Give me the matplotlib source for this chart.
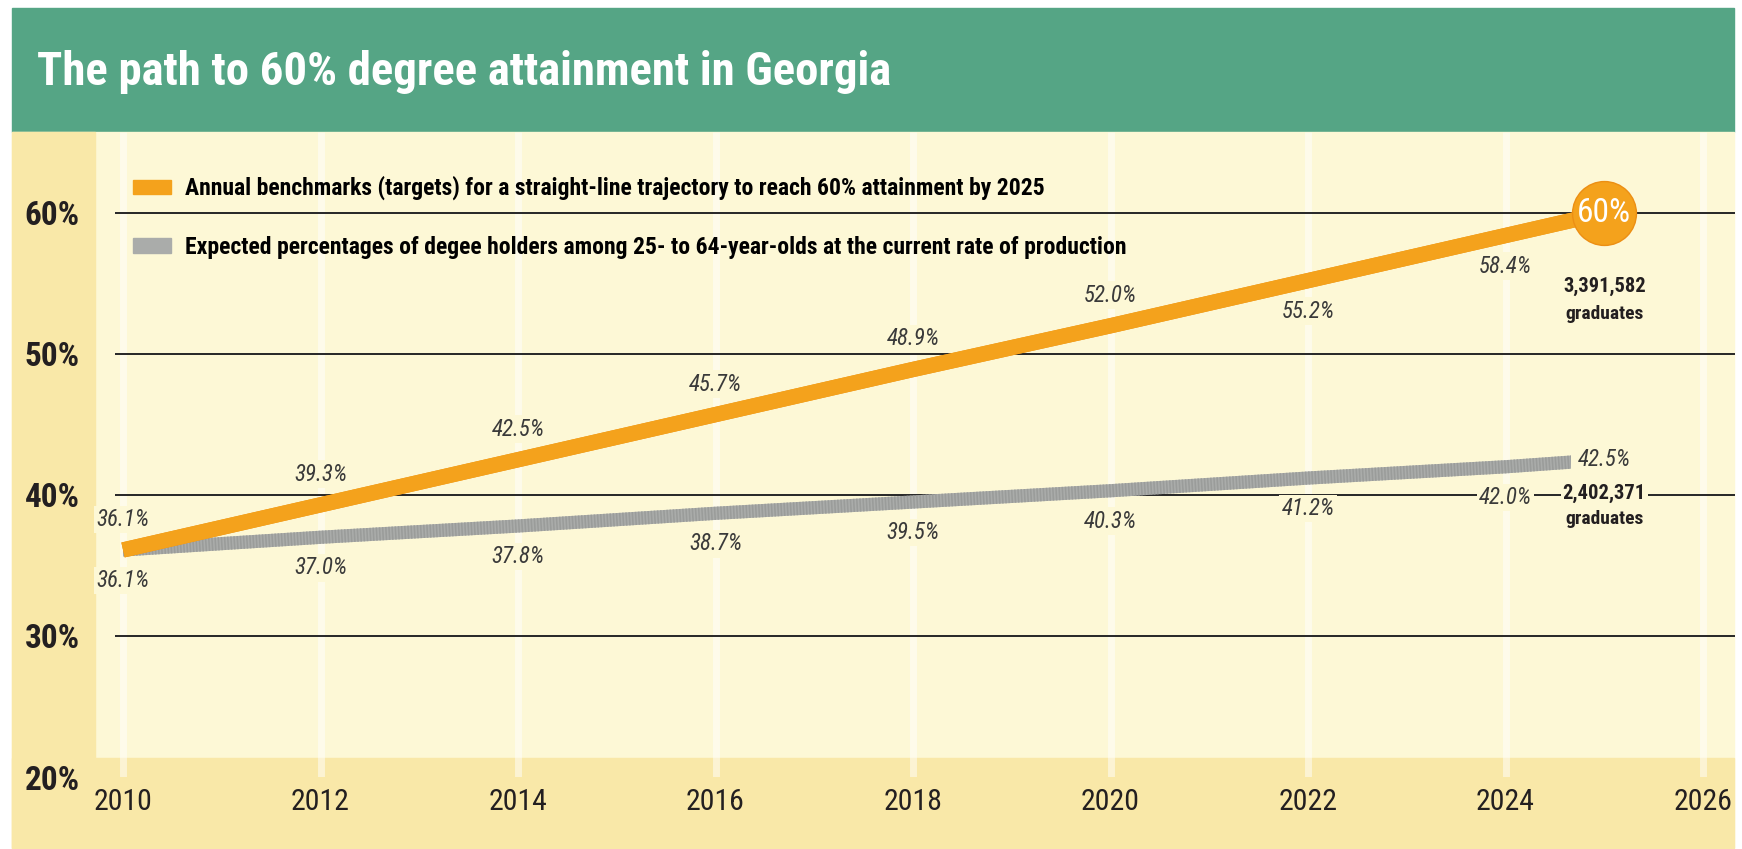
import matplotlib
matplotlib.use('Agg')
import matplotlib.pyplot as plt
from matplotlib.patches import Rectangle, Patch
import matplotlib.patheffects as pe
from matplotlib import font_manager

CONDENSED = ('condensed', 'semi-condensed', 'extra-condensed', 'ultra-condensed')


def pick_font():
    ents = font_manager.fontManager.ttflist
    names = {f.name for f in ents}
    for p in ['Liberation Sans Narrow', 'Roboto Condensed', 'Noto Sans Condensed',
              'Open Sans Condensed', 'Noto Sans SemiCondensed']:
        if p in names:
            return p, 'normal'
    for fam in ['Roboto', 'Noto Sans', 'Open Sans', 'DejaVu Sans', 'Liberation Sans']:
        for f in ents:
            if f.name == fam and f.stretch in CONDENSED:
                return fam, 'condensed'
    for f in ents:
        if 'Condensed' in f.name or 'Narrow' in f.name:
            return f.name, 'normal'
    return 'DejaVu Sans', 'normal'


FONT, STRETCH = pick_font()
plt.rcParams['font.family'] = [FONT, 'DejaVu Sans']
plt.rcParams['font.stretch'] = STRETCH

# data
years = [2010, 2012, 2014, 2016, 2018, 2020, 2022, 2024, 2025]
benchmark = [36.1, 39.3, 42.5, 45.7, 48.9, 52.0, 55.2, 58.4, 60.0]
expected = [36.1, 37.0, 37.8, 38.7, 39.5, 40.3, 41.2, 42.0, 42.5]
benchmark_side = ['up', 'up', 'up', 'up', 'up', 'up', 'down', 'down']
grads_target = '3,391,582'
grads_expected = '2,402,371'
xticks = [2010, 2012, 2014, 2016, 2018, 2020, 2022, 2024, 2026]
yticks = [20, 30, 40, 50, 60]
title = 'The path to 60% degree attainment in Georgia'
legend_labels = [
    'Annual benchmarks (targets) for a straight-line trajectory to reach 60% attainment by 2025',
    'Expected percentages of degee holders among 25- to 64-year-olds at the current rate of production',
]

GREEN = '#55a585'
CREAM = '#fdf8d6'
STRIP = '#f9e8a8'
ORANGE = '#f4a21c'
ORANGE_DK = '#ec8f14'
GRAY = '#aaacaa'
INK = '#231f20'
LABEL = '#3a3a3a'

W, H = 1742, 849
fig = plt.figure(figsize=(W / 100, H / 100), dpi=100)
fig.patch.set_facecolor('white')
renderer = fig.canvas.get_renderer()


def fit(text, width_px, cap, weight='normal', style='normal'):
    # font size that gives the text about the width it has in the reference
    t = fig.text(0, 0, text, fontsize=20, fontweight=weight, fontstyle=style)
    w = t.get_window_extent(renderer=renderer).width
    t.remove()
    return min(cap, 20 * width_px / w)


fs_title = fit(title, 853, 40, 'bold')
fs_legend = fit(legend_labels[0], 932, 17, 'bold')
fs_xtick = fit('2010', 59, 27)
fs_ytick = fit('60%', 55, 26, 'bold')
fs_value = fit('42.5%', 53, 18, style='italic')
fs_grads = fit(grads_target, 83, 17, 'bold')
fs_gradword = fit('graduates', 80, 14, 'bold')
fs_circle = fit('60%', 54, 24)


def px(x0, y0, x1, y1, color):
    fig.patches.append(Rectangle((x0 / W, 1 - y1 / H), (x1 - x0) / W, (y1 - y0) / H,
                                 transform=fig.transFigure, color=color, zorder=-10))


px(12, 8, 1734, 132, GREEN)
px(12, 132, 1734, 848, CREAM)
px(12, 132, 95, 848, STRIP)
px(12, 758, 1734, 848, STRIP)

fig.text(37 / W, 1 - 72 / H, title, color='white', fontsize=fs_title, fontweight='bold',
         ha='left', va='center')

ax = fig.add_axes([95 / W, 1 - 777 / H, 1642 / W, 645 / H])
ax.set_facecolor('none')
ax.set_xlim(2009.716, 2026.344)
ax.set_ylim(20, 65.74)
for s in ax.spines.values():
    s.set_visible(False)

ax.set_xticks(xticks)
ax.set_xticklabels([str(x) for x in xticks], fontsize=fs_xtick, color=INK)
ax.set_yticks(yticks)
ax.set_yticklabels(['%d%%' % y for y in yticks], fontsize=fs_ytick, fontweight='bold',
                   color=INK)
ax.tick_params(axis='x', length=0, pad=8)
ax.tick_params(axis='y', length=0, pad=11)

# white column lines and horizontal rules
ax.vlines(xticks, 20, 65.74, color='white', lw=5, alpha=0.5, zorder=0.5)
ax.hlines(yticks[1:], 2009.92, 2026.32, color='#262626', lw=1.4, zorder=1)

# series
ax.plot(years, benchmark, color=ORANGE, lw=11, solid_capstyle='butt', zorder=4,
        path_effects=[pe.Stroke(linewidth=11, foreground=ORANGE_DK), pe.Normal()])
ax.plot(years, expected, color=GRAY, lw=9.5, solid_capstyle='butt', zorder=3)
ax.plot(years, expected, color='#9a9c9a', lw=9.5, ls=(0, (0.12, 0.12)),
        solid_capstyle='butt', zorder=3)

lab_bbox = dict(boxstyle='square,pad=0.1', fc=CREAM, ec='none')
for x, v, side in zip(years[:-1], benchmark[:-1], benchmark_side):
    dy = 22 if side == 'up' else -22
    ax.annotate('%.1f%%' % v, (x, v), xytext=(0, dy), textcoords='offset points',
                ha='center', va='center', fontsize=fs_value, fontstyle='italic',
                color=LABEL, zorder=2, bbox=lab_bbox)
for x, v in zip(years[:-1], expected[:-1]):
    ax.annotate('%.1f%%' % v, (x, v), xytext=(0, -22), textcoords='offset points',
                ha='center', va='center', fontsize=fs_value, fontstyle='italic',
                color=LABEL, zorder=2, bbox=lab_bbox)

# end point callouts
ax.plot(years[-1], benchmark[-1], 'o', ms=46, color=ORANGE, mec=ORANGE_DK, mew=1, zorder=6)
ax.annotate('%d%%' % benchmark[-1], (years[-1], benchmark[-1]), ha='center', va='center',
            fontsize=fs_circle, color='white', zorder=7)
ax.annotate(grads_target, (years[-1], benchmark[-1]), xytext=(0, -53),
            textcoords='offset points', ha='center', va='center', fontsize=fs_grads,
            fontweight='bold', color=INK)
ax.annotate('graduates', (years[-1], benchmark[-1]), xytext=(0, -73),
            textcoords='offset points', ha='center', va='center', fontsize=fs_gradword,
            fontweight='bold', color=INK)
ax.annotate('%.1f%%' % expected[-1], (years[-1], expected[-1]), ha='center', va='center',
            fontsize=fs_value, fontstyle='italic', color=LABEL, zorder=5,
            bbox=dict(boxstyle='square,pad=0.3', fc=CREAM, ec='none'))
ax.annotate(grads_expected, (years[-1], expected[-1]), xytext=(0, -24),
            textcoords='offset points', ha='center', va='center', fontsize=fs_grads,
            fontweight='bold', color=INK, zorder=5, bbox=lab_bbox)
ax.annotate('graduates', (years[-1], expected[-1]), xytext=(0, -43),
            textcoords='offset points', ha='center', va='center', fontsize=fs_gradword,
            fontweight='bold', color=INK)

handles = [Patch(color=ORANGE), Patch(color=GRAY)]
fig.legend(handles, legend_labels, loc='upper left', bbox_to_anchor=(133 / W, 1 - 176 / H),
           frameon=False, prop=dict(weight='bold', size=fs_legend, stretch=STRETCH),
           handlelength=1.6, handleheight=0.55, handletextpad=0.6,
           labelspacing=1.5, borderpad=0, borderaxespad=0)

fig.savefig('out.png', dpi=100)
